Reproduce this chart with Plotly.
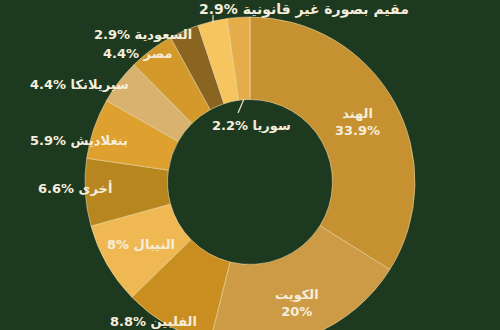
import plotly.graph_objects as go

# Data (clockwise from 12 o'clock)
countries = ["الهند", "الكويت", "الفلبين", "النيبال", "أخرى", "بنغلاديش",
             "سيريلانكا", "مصر", "السعودية", "مقيم بصورة غير قانونية", "سوريا"]
shares = [33.9, 20, 8.8, 8, 6.6, 5.9, 4.4, 4.4, 2.9, 2.9, 2.2]
colors = ["#C69130", "#CD9A45", "#C98E1F", "#F0B853", "#B8861F", "#DEA02E",
          "#D8B26E", "#D39A2B", "#8A6421", "#F6C560", "#E4AD4A"]

W, H = 500, 347
BG = "#1d3920"
TXT = "#F5EEDC"

fig = go.Figure(go.Pie(
    labels=countries,
    values=shares,
    sort=False,
    direction="clockwise",
    rotation=0,
    hole=0.5,
    textinfo="none",
    hoverinfo="label+percent",
    marker=dict(colors=colors, line=dict(color="rgba(245,225,175,0.55)", width=1)),
    domain=dict(x=[0, 1], y=[0, 330 / H]),
    showlegend=False,
))

def fmt(v):
    return ("%g" % v) + "%"

# label placement (pixel centres in the 500x347 canvas), and layout style per label
label_pos = {
    "الهند": (357, 122, "two"),
    "الكويت": (297, 303, "two"),
    "الفلبين": (153, 321, "one"),
    "النيبال": (141, 245, "one"),
    "أخرى": (75, 188, "one"),
    "بنغلاديش": (79, 140, "one"),
    "سيريلانكا": (79, 84, "one"),
    "مصر": (138, 54, "one"),
    "السعودية": (143, 34, "one"),
    "مقيم بصورة غير قانونية": (304, 9, "one"),
    "سوريا": (251, 125, "one"),
}

annotations = []
for name, v in zip(countries, shares):
    px, py, style = label_pos[name]
    if style == "two":
        text = f"<b>{name}</b><br><b>{fmt(v)}</b>"
    else:
        text = f"<b>{fmt(v)} {name}</b>"
    size = 14 if name == "مقيم بصورة غير قانونية" else 13
    annotations.append(dict(
        x=px / W, y=(H - py) / H, xref="paper", yref="paper",
        text=text, showarrow=False, xanchor="center", yanchor="middle",
        font=dict(family="DejaVu Sans", size=size, color=TXT),
    ))

def pline(x0, y0, x1, y1):
    return dict(type="line", xref="paper", yref="paper",
                x0=x0 / W, y0=(H - y0) / H, x1=x1 / W, y1=(H - y1) / H,
                line=dict(color="#EDE3C8", width=1.2))

shapes = [pline(238, 113, 244, 99), pline(213, 15, 213, 23)]

fig.update_layout(
    width=W, height=H,
    margin=dict(l=0, r=0, t=0, b=0),
    paper_bgcolor=BG, plot_bgcolor=BG,
    annotations=annotations, shapes=shapes,
)

fig.write_html("out.html", post_script=(
    "document.body.style.overflow='hidden';"
    "document.documentElement.style.overflow='hidden';"
    "document.body.style.margin='0';"
))
